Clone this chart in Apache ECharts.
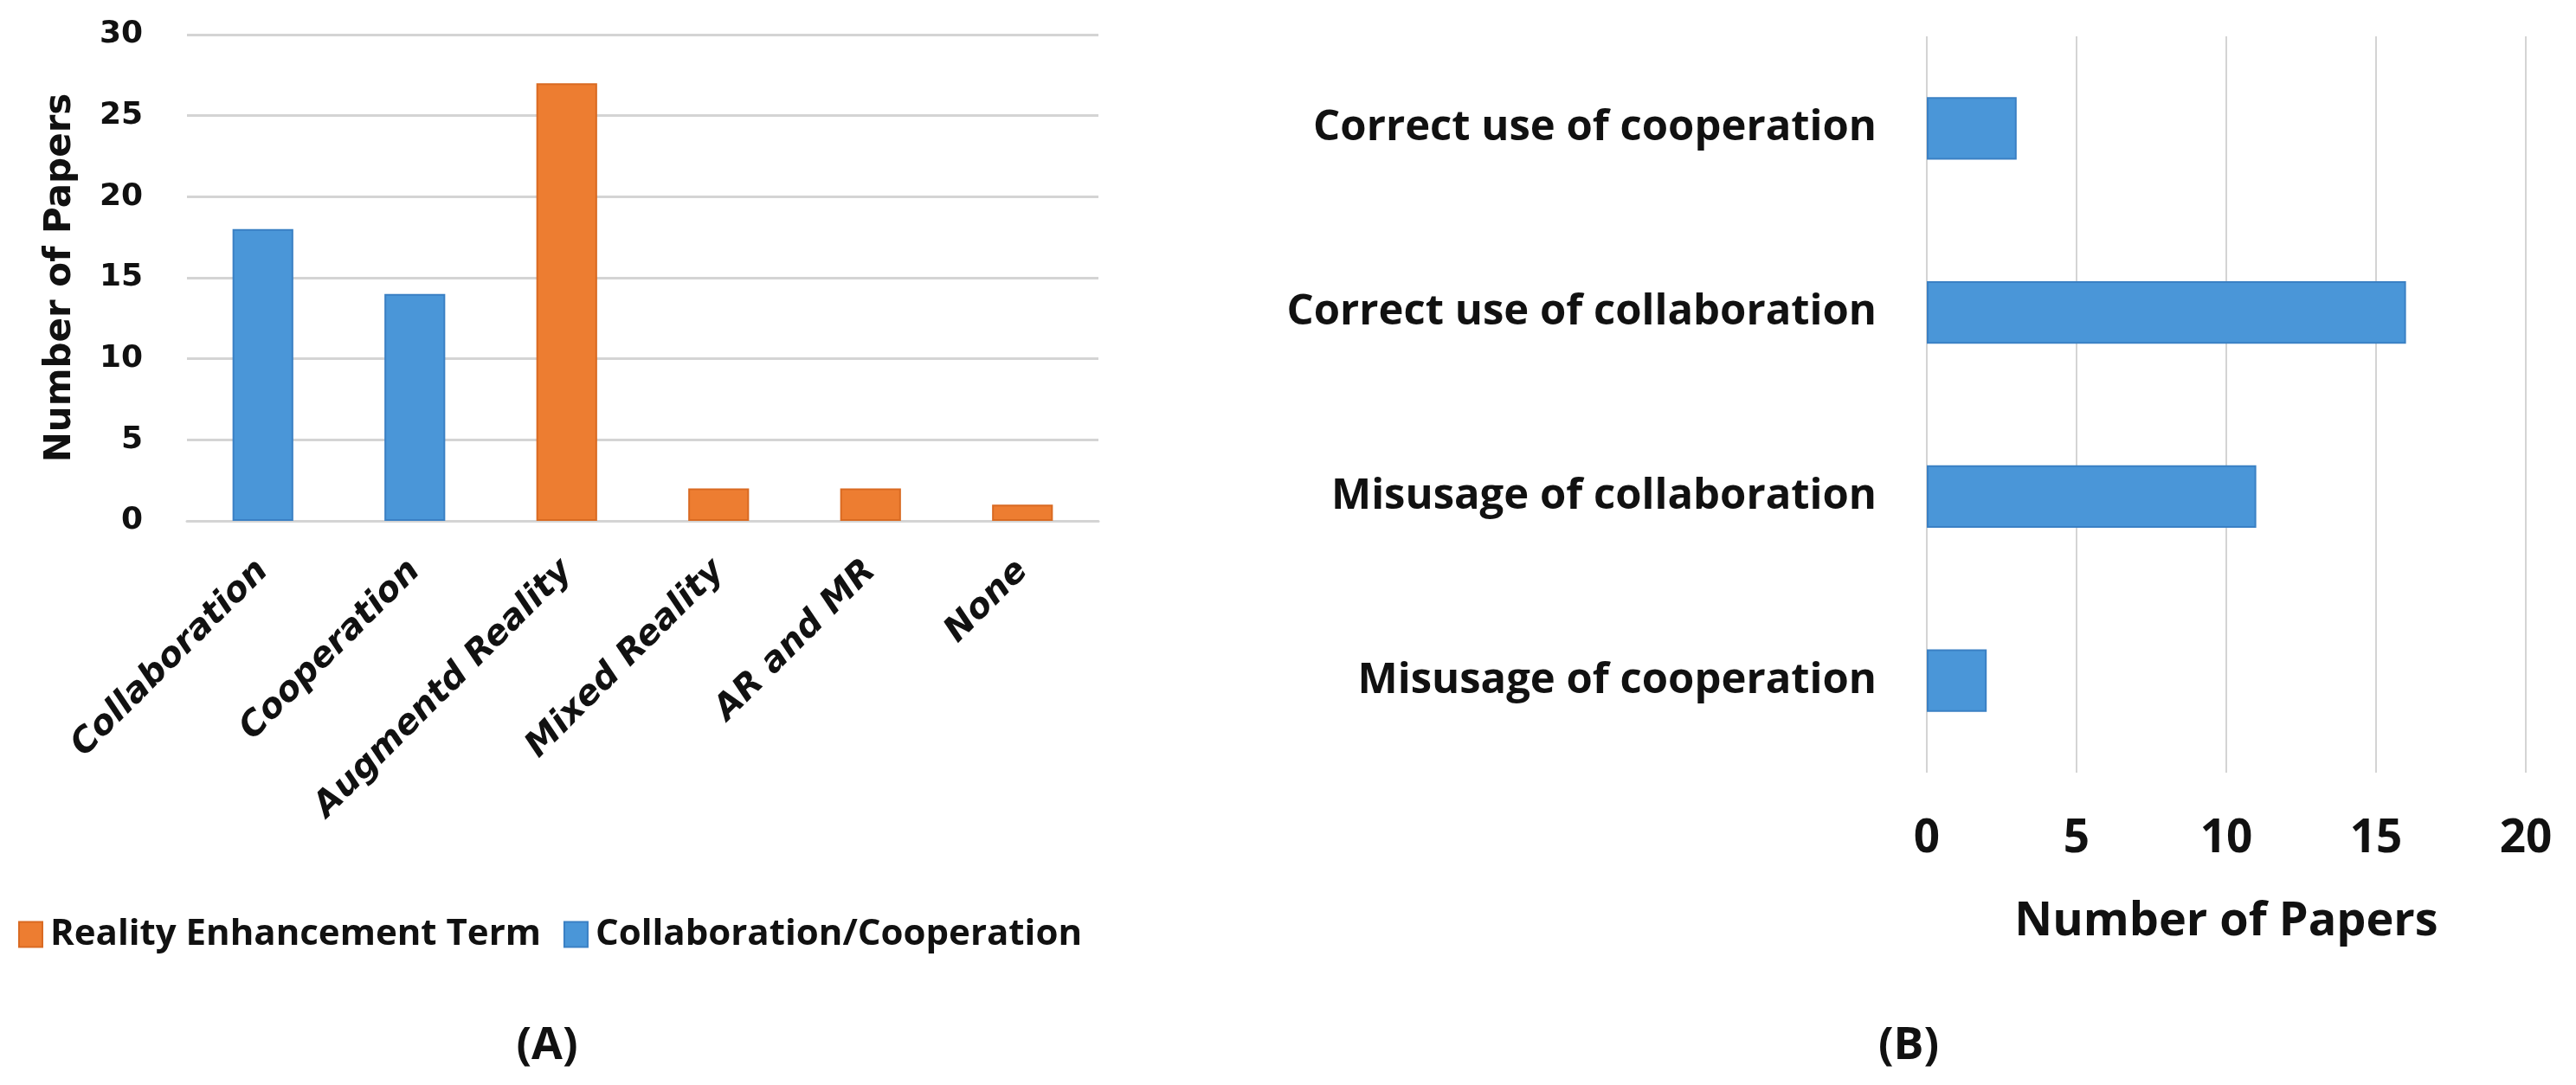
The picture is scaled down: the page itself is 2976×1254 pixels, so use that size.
<!DOCTYPE html>
<html>
<head>
<meta charset="utf-8">
<script src="https://cdn.jsdelivr.net/npm/echarts@6/dist/echarts.min.js"></script>
<style>
  html, body { margin: 0; padding: 0; background: #fff; }
  #chart { width: 2976px; height: 1254px; }
</style>
</head>
<body>
<div id="chart"></div>
<script>
// (A) term usage
const categoriesA = ['Collaboration', 'Cooperation', 'Augmentd Reality', 'Mixed Reality', 'AR and MR', 'None']
const realityValues = ['-', '-', 27, 2, 2, 1]
const collabValues = [18, 14, '-', '-', '-', '-']
const ticksA = [0, 5, 10, 15, 20, 25, 30]

// (B) correct use / misuse
const categoriesB = ['Correct use of cooperation', 'Correct use of collaboration', 'Misusage of collaboration', 'Misusage of cooperation']
const valuesB = [3, 16, 11, 2]
const ticksB = [0, 5, 10, 15, 20]

const calibriLike = '"Open Sans", Roboto, sans-serif'
const wide = '"DejaVu Sans", Verdana, sans-serif'
const blue = '#4a96d8'
const orange = '#ed7d31'
const gridGray = '#d4d4d4'

const chart = echarts.init(document.getElementById('chart'))

chart.setOption({
  animation: false,
  title: [
    { text: '(A)', left: 627, top: 1204, textAlign: 'center', textVerticalAlign: 'middle',
      textStyle: { fontFamily: calibriLike, fontSize: 52, fontWeight: 'bold', color: '#111' } },
    { text: '(B)', left: 2200, top: 1204, textAlign: 'center', textVerticalAlign: 'middle',
      textStyle: { fontFamily: calibriLike, fontSize: 52, fontWeight: 'bold', color: '#111' } },
  ],
  legend: {
    left: 16,
    top: 1054,
    itemWidth: 27,
    itemHeight: 29,
    itemGap: 26,
    icon: 'rect',
    data: ['Reality Enhancement Term', 'Collaboration/Cooperation'],
    textStyle: { fontFamily: calibriLike, fontSize: 42, fontWeight: 'bold', color: '#111', padding: [0, 0, 0, 4] },
  },
  grid: [
    { left: 216, right: 1707, top: 40, bottom: 652 },
    { left: 2226, right: 58, top: 42, bottom: 361 },
  ],
  xAxis: [
    {
      type: 'category',
      gridIndex: 0,
      data: categoriesA,
      axisLine: { lineStyle: { color: gridGray, width: 3 } },
      axisTick: { show: false },
      axisLabel: {
        rotate: 45,
        margin: 52,
        fontFamily: wide,
        fontSize: 40,
        fontWeight: 'bold',
        fontStyle: 'italic',
        color: '#111',
      },
    },
    {
      type: 'value',
      gridIndex: 1,
      min: ticksB[0],
      max: ticksB[ticksB.length - 1],
      interval: 5,
      name: 'Number of Papers',
      nameLocation: 'middle',
      nameGap: 146,
      nameTextStyle: { fontFamily: calibriLike, fontSize: 54, fontWeight: 'bold', color: '#111' },
      axisLine: { show: false },
      axisTick: { show: false },
      splitLine: { lineStyle: { color: gridGray, width: 2 } },
      axisLabel: { margin: 50, fontFamily: calibriLike, fontSize: 53, fontWeight: 'bold', color: '#111' },
    },
  ],
  yAxis: [
    {
      type: 'value',
      gridIndex: 0,
      min: ticksA[0],
      max: ticksA[ticksA.length - 1],
      interval: 5,
      name: 'Number of Papers',
      nameLocation: 'middle',
      nameGap: 125,
      nameTextStyle: { fontFamily: wide, fontSize: 42, fontWeight: 'bold', color: '#111' },
      axisLine: { show: false },
      axisTick: { show: false },
      splitLine: { lineStyle: { color: gridGray, width: 3 } },
      axisLabel: { margin: 51, fontFamily: wide, fontSize: 36, fontWeight: 'bold', color: '#111' },
    },
    {
      type: 'category',
      gridIndex: 1,
      data: categoriesB,
      inverse: true,
      axisLine: { show: false },
      axisTick: { show: false },
      axisLabel: { margin: 58, fontFamily: calibriLike, fontSize: 49, fontWeight: 'bold', color: '#111' },
    },
  ],
  series: [
    {
      name: 'Reality Enhancement Term',
      type: 'bar',
      stack: 'a',
      xAxisIndex: 0,
      yAxisIndex: 0,
      barWidth: '40%',
      data: realityValues,
      itemStyle: { color: orange, borderColor: '#d96a22', borderWidth: 2 },
    },
    {
      name: 'Collaboration/Cooperation',
      type: 'bar',
      stack: 'a',
      xAxisIndex: 0,
      yAxisIndex: 0,
      barWidth: '40%',
      data: collabValues,
      itemStyle: { color: blue, borderColor: '#3a80c4', borderWidth: 2 },
    },
    {
      name: 'Papers',
      type: 'bar',
      xAxisIndex: 1,
      yAxisIndex: 1,
      barWidth: '34%',
      data: valuesB,
      itemStyle: { color: blue, borderColor: '#3a80c4', borderWidth: 2 },
    },
  ],
})
</script>
</body>
</html>
